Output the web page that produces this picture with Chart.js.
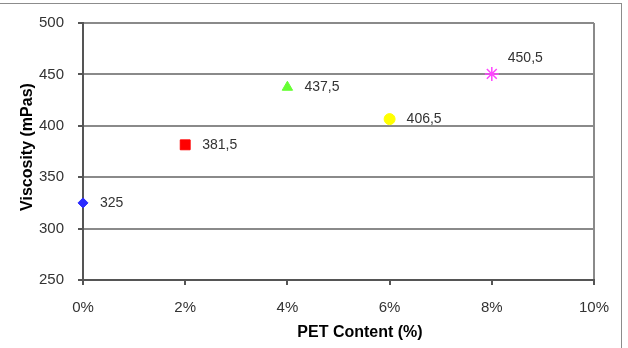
<!DOCTYPE html>
<html>
<head>
<meta charset="utf-8">
<title>Viscosity vs PET Content</title>
<script src="https://cdn.jsdelivr.net/npm/chart.js@4.4.1/dist/chart.umd.min.js"></script>
<style>
    html, body { margin: 0; padding: 0; background: #fff; }
    .wrap { position: relative; width: 628px; height: 348px; overflow: hidden; }
    .frame {
        position: absolute; top: 3px; left: -2px; width: 623px; height: 400px;
        border-top: 1px solid #8c8c8c; border-right: 1px solid #8c8c8c;
        pointer-events: none;
    }
    canvas { display: block; }
</style>
</head>
<body>
<div class="wrap">
    <canvas id="viscChart" width="628" height="348"></canvas>
    <div class="frame"></div>
</div>
<script>
// =====================================================
//  DATA
// =====================================================
const petContent = [0, 2, 4, 6, 8];               // %
const viscosity  = [325, 381.5, 437.5, 406.5, 450.5]; // mPas
const xTicks = [0, 2, 4, 6, 8, 10];
const yTicks = [250, 300, 350, 400, 450, 500];

// marker look per point (Excel default series markers)
const markerColors = ['#2b2bff', '#ff0000', '#66ff33', '#ffff00', '#ff44ff'];
const markerShapes = ['rectRot', 'rect', 'triangle', 'circle', 'star'];
const markerSizes  = [5, 7, 6, 5.5, 7];

Chart.defaults.font.family = "'Liberation Sans', Arial, sans-serif";
Chart.defaults.color = '#333';

// Plugin: value labels next to each marker + axis titles
const labelPlugin = {
    id: 'valueLabels',
    afterDatasetsDraw(chart) {
        const ctx = chart.ctx;
        const pts = chart.getDatasetMeta(0).data;
        ctx.save();
        ctx.font = "14px 'Liberation Sans', Arial, sans-serif";
        ctx.fillStyle = '#333';
        ctx.textAlign = 'left';
        ctx.textBaseline = 'middle';
        pts.forEach((p, i) => {
            const txt = String(viscosity[i]).replace('.', ',');
            const last = i === pts.length - 1;
            ctx.fillText(txt, p.x + (last ? 16 : 17), p.y + (last ? -16 : 0));
        });
        ctx.restore();
    },
    afterDraw(chart) {
        const ctx = chart.ctx;
        ctx.save();
        ctx.font = "bold 16px 'Liberation Sans', Arial, sans-serif";
        ctx.fillStyle = '#000';
        ctx.textAlign = 'center';
        ctx.textBaseline = 'middle';
        ctx.fillText('PET Content (%)', 360, 333);
        ctx.translate(28, 147);
        ctx.rotate(-Math.PI / 2);
        ctx.fillText('Viscosity (mPas)', 0, 0);
        ctx.restore();
    }
};

new Chart(document.getElementById('viscChart'), {
    type: 'scatter',
    data: {
        datasets: [{
            data: petContent.map((x, i) => ({ x, y: viscosity[i] })),
            pointStyle: markerShapes,
            pointRadius: markerSizes,
            pointHoverRadius: markerSizes,
            backgroundColor: markerColors,
            borderColor: markerColors,
            borderWidth: [1, 1, 1, 1, 1.5],
            clip: false
        }]
    },
    plugins: [labelPlugin],
    options: {
        responsive: false,
        animation: false,
        events: [],
        layout: { padding: { top: 23, right: 34, left: 0, bottom: 0 } },
        plugins: { legend: { display: false }, tooltip: { enabled: false } },
        scales: {
            x: {
                type: 'linear',
                min: 0, max: 10,
                afterBuildTicks: s => { s.ticks = xTicks.map(v => ({ value: v })); },
                afterFit: s => { s.height = 68; },
                ticks: { padding: 14, font: { size: 15 }, color: '#333', callback: v => v + '%' },
                grid: {
                    color: c => c.index === xTicks.length - 1 ? '#8a8a8a' : 'transparent',
                    lineWidth: 2,
                    tickColor: '#555',
                    tickLength: 5
                },
                border: { color: '#555', width: 2 }
            },
            y: {
                min: 250, max: 500,
                afterBuildTicks: s => { s.ticks = yTicks.map(v => ({ value: v })); },
                afterFit: s => { s.width = 83; },
                ticks: { padding: 14, font: { size: 15 }, color: '#333' },
                grid: {
                    color: c => c.index === 0 ? 'transparent' : '#8a8a8a',
                    lineWidth: 2,
                    tickColor: '#555',
                    tickLength: 5
                },
                border: { color: '#555', width: 2 }
            }
        }
    }
});
</script>
</body>
</html>
